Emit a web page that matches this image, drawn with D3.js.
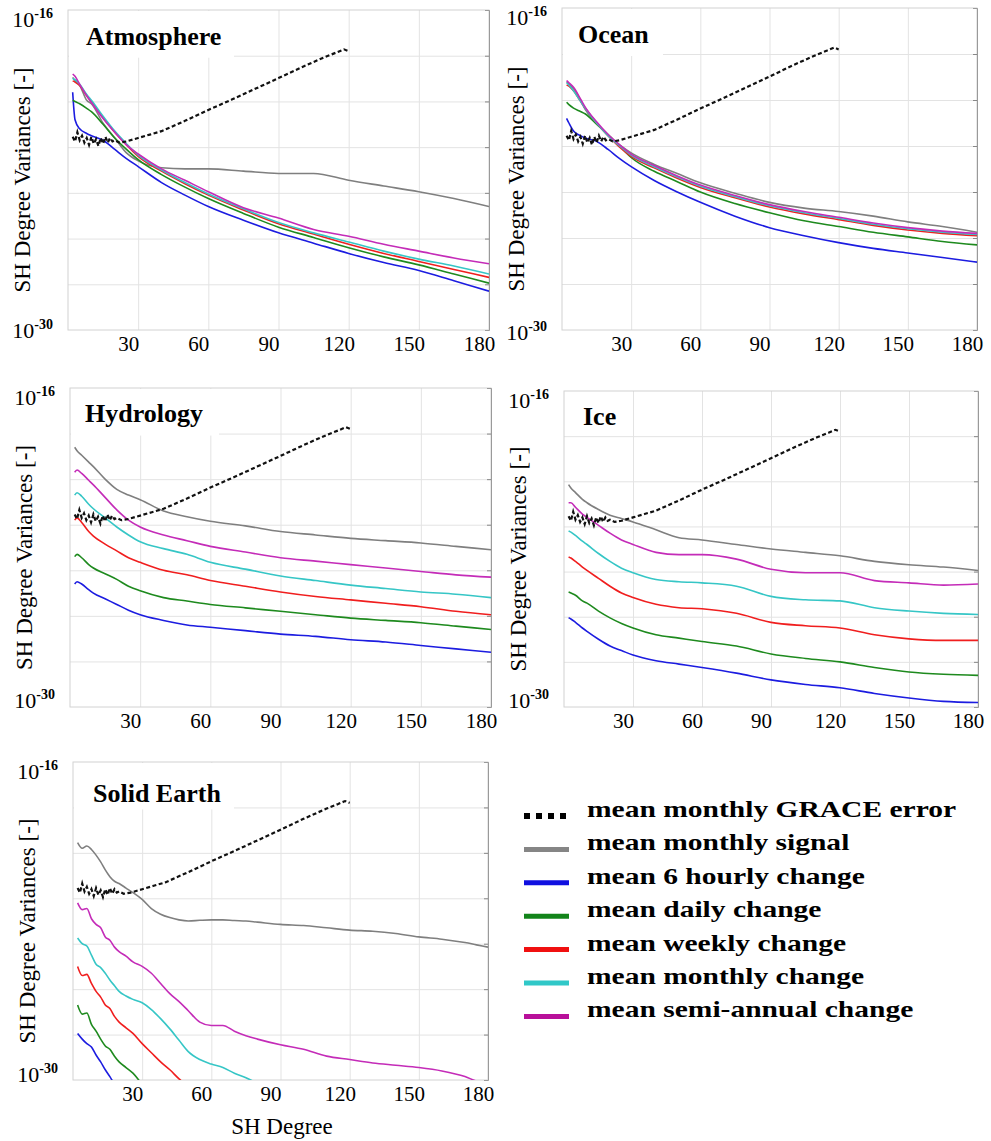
<!DOCTYPE html>
<html>
<head>
<meta charset="utf-8">
<script src="https://cdn.jsdelivr.net/npm/d3@7"></script>
<style>
  body { margin: 0; background: #fff; }
  svg { display: block; font-family: "Liberation Serif", "Times New Roman", serif; }
</style>
</head>
<body>
<svg id="chart" width="991" height="1141"></svg>
<script>
// SH degrees where the curves are sampled
const degrees = [2, 3, 5, 8, 10, 15, 20, 25, 30, 40, 50, 60, 75, 90, 105, 120, 135, 150, 165, 180];

// mean monthly GRACE error (same in every panel), log10 of the degree variance
const graceDegrees = [2, 3, 4, 5, 6, 7, 8, 9, 10, 11, 12, 13, 14, 15, 16, 17, 18, 19, 20, 22, 25, 30, 35, 40, 50, 60, 70, 80, 90, 100, 110, 115, 118, 120];
const graceError = [-21.55, -21.75, -21.35, -21.7, -21.5, -21.8, -21.6, -21.9, -21.55, -21.85, -21.65, -21.95, -21.6, -21.85, -21.55, -21.8, -21.6, -21.75, -21.7, -21.8, -21.75, -21.6, -21.45, -21.3, -20.85, -20.37, -19.92, -19.45, -18.98, -18.5, -18.05, -17.85, -17.72, -17.8];

// Atmosphere
const atmSignal     = [-18.95, -19.1, -19.3, -19.95, -20.1, -20.95, -21.6, -22.25, -22.6, -22.9, -22.95, -22.95, -23.05, -23.15, -23.15, -23.45, -23.7, -23.95, -24.25, -24.6];
const atmHourly     = [-19.6, -20.8, -21.2, -21.4, -21.5, -21.7, -22.1, -22.5, -22.85, -23.55, -24.1, -24.6, -25.2, -25.75, -26.2, -26.65, -27.05, -27.4, -27.85, -28.3];
const atmDaily      = [-19.95, -20.0, -20.1, -20.3, -20.45, -21.0, -21.6, -22.1, -22.55, -23.2, -23.75, -24.25, -24.9, -25.5, -25.95, -26.4, -26.8, -27.15, -27.55, -27.95];
const atmWeekly     = [-19.1, -19.15, -19.3, -19.75, -20.0, -20.7, -21.35, -21.9, -22.4, -23.05, -23.6, -24.1, -24.75, -25.35, -25.8, -26.25, -26.65, -27.0, -27.35, -27.7];
const atmMonthly    = [-19.0, -19.05, -19.25, -19.7, -19.95, -20.65, -21.3, -21.85, -22.35, -23.0, -23.55, -24.05, -24.7, -25.3, -25.75, -26.15, -26.55, -26.9, -27.2, -27.55];
const atmSemiAnnual = [-18.8, -18.9, -19.25, -19.75, -20.05, -20.75, -21.35, -21.9, -22.3, -22.95, -23.45, -23.95, -24.65, -25.1, -25.6, -25.9, -26.25, -26.55, -26.85, -27.1];

// Ocean
const ocnSignal     = [-19.2, -19.3, -19.5, -20.0, -20.4, -21.0, -21.55, -21.95, -22.3, -22.8, -23.2, -23.6, -24.05, -24.45, -24.7, -24.85, -25.05, -25.3, -25.5, -25.75];
const ocnHourly     = [-20.8, -21.0, -21.35, -21.55, -21.65, -21.8, -22.15, -22.55, -22.9, -23.5, -24.0, -24.45, -25.05, -25.55, -25.9, -26.2, -26.45, -26.65, -26.85, -27.05];
const ocnDaily      = [-20.1, -20.2, -20.35, -20.5, -20.6, -21.05, -21.5, -22.0, -22.5, -23.1, -23.55, -24.0, -24.5, -24.9, -25.25, -25.5, -25.75, -25.95, -26.15, -26.3];
const ocnWeekly     = [-19.35, -19.4, -19.6, -20.05, -20.35, -21.0, -21.55, -22.05, -22.45, -22.95, -23.4, -23.8, -24.25, -24.65, -24.95, -25.2, -25.45, -25.65, -25.8, -25.9];
const ocnMonthly    = [-19.25, -19.35, -19.6, -20.05, -20.35, -21.0, -21.55, -22.0, -22.4, -22.9, -23.35, -23.75, -24.2, -24.6, -24.9, -25.15, -25.4, -25.6, -25.75, -25.85];
const ocnSemiAnnual = [-19.15, -19.25, -19.45, -19.95, -20.3, -20.95, -21.5, -21.95, -22.35, -22.85, -23.3, -23.7, -24.15, -24.55, -24.85, -25.1, -25.35, -25.55, -25.7, -25.8];

// Hydrology
const hydSignal     = [-18.6, -18.75, -18.95, -19.25, -19.45, -20.0, -20.45, -20.7, -20.9, -21.4, -21.65, -21.85, -22.05, -22.3, -22.45, -22.6, -22.7, -22.8, -22.95, -23.1];
const hydHourly     = [-24.6, -24.5, -24.6, -24.85, -25.0, -25.25, -25.5, -25.75, -25.95, -26.2, -26.4, -26.5, -26.65, -26.8, -26.9, -27.05, -27.15, -27.3, -27.45, -27.6];
const hydDaily      = [-23.4, -23.3, -23.45, -23.75, -23.9, -24.15, -24.4, -24.7, -24.9, -25.2, -25.35, -25.5, -25.65, -25.8, -25.95, -26.1, -26.2, -26.3, -26.45, -26.6];
const hydWeekly     = [-21.8, -21.7, -21.9, -22.3, -22.5, -22.85, -23.15, -23.45, -23.65, -24.0, -24.2, -24.45, -24.7, -24.95, -25.15, -25.3, -25.45, -25.6, -25.8, -25.95];
const hydMonthly    = [-20.7, -20.6, -20.75, -21.1, -21.3, -21.7, -22.1, -22.45, -22.75, -23.05, -23.3, -23.65, -23.95, -24.25, -24.45, -24.65, -24.8, -24.95, -25.05, -25.2];
const hydSemiAnnual = [-19.7, -19.6, -19.75, -20.05, -20.25, -20.8, -21.35, -21.8, -22.1, -22.45, -22.7, -22.95, -23.2, -23.45, -23.6, -23.75, -23.9, -24.05, -24.2, -24.3];

// Ice
const iceSignal     = [-20.15, -20.3, -20.5, -20.8, -20.95, -21.25, -21.5, -21.65, -21.8, -22.15, -22.5, -22.6, -22.8, -23.0, -23.15, -23.3, -23.55, -23.7, -23.8, -23.95];
const iceHourly     = [-26.05, -26.1, -26.25, -26.5, -26.65, -27.0, -27.3, -27.5, -27.7, -27.95, -28.1, -28.25, -28.5, -28.8, -29.0, -29.15, -29.4, -29.6, -29.75, -29.8];
const iceDaily      = [-24.9, -24.95, -25.05, -25.3, -25.4, -25.75, -26.05, -26.3, -26.5, -26.8, -26.95, -27.1, -27.3, -27.65, -27.85, -28.0, -28.25, -28.45, -28.55, -28.6];
const iceWeekly     = [-23.35, -23.4, -23.55, -23.8, -23.95, -24.3, -24.65, -24.95, -25.15, -25.45, -25.6, -25.65, -25.85, -26.25, -26.4, -26.5, -26.8, -26.98, -27.05, -27.05];
const iceMonthly    = [-22.2, -22.25, -22.4, -22.65, -22.8, -23.2, -23.55, -23.85, -24.05, -24.35, -24.45, -24.5, -24.65, -25.1, -25.25, -25.3, -25.6, -25.75, -25.85, -25.9];
const iceSemiAnnual = [-20.95, -20.95, -21.15, -21.45, -21.6, -21.95, -22.3, -22.6, -22.8, -23.15, -23.25, -23.25, -23.45, -23.9, -24.05, -24.05, -24.4, -24.5, -24.6, -24.55];

// Solid Earth (own sampling, null where the curve has left the plot)
const seDegrees = [2, 4, 6, 8, 10, 12, 14, 16, 18, 20, 23, 26, 30, 34, 38, 42, 46, 50, 55, 60, 65, 70, 75, 80, 90, 100, 110, 120, 130, 140, 150, 160, 170, 175, 180];
const seSignal     = [-19.55, -19.8, -19.7, -19.85, -20.1, -20.4, -20.75, -21.05, -21.25, -21.35, -21.55, -21.75, -22.05, -22.45, -22.7, -22.85, -22.95, -23.0, -22.97, -22.95, -22.95, -22.98, -23.0, -23.05, -23.15, -23.2, -23.3, -23.4, -23.45, -23.55, -23.7, -23.8, -23.95, -24.05, -24.15];
const seHourly     = [-27.95, -28.2, -28.4, -28.55, -28.9, -29.2, -29.55, -29.85, -30.2, null, null, null, null, null, null, null, null, null, null, null, null, null, null, null, null, null, null, null, null, null, null, null, null, null, null];
const seDaily      = [-26.7, -27.1, -27.05, -27.55, -27.85, -28.2, -28.5, -28.65, -28.95, -29.2, -29.45, -29.7, -30.2, null, null, null, null, null, null, null, null, null, null, null, null, null, null, null, null, null, null, null, null, null, null];
const seWeekly     = [-25.0, -25.4, -25.35, -25.75, -26.1, -26.35, -26.7, -26.85, -27.2, -27.45, -27.7, -27.95, -28.4, -28.8, -29.2, -29.55, -29.95, -30.3, null, null, null, null, null, null, null, null, null, null, null, null, null, null, null, null, null];
const seMonthly    = [-23.75, -24.0, -24.1, -24.5, -24.9, -25.05, -25.3, -25.6, -25.85, -26.1, -26.3, -26.45, -26.6, -26.9, -27.3, -27.75, -28.25, -28.75, -29.1, -29.3, -29.45, -29.7, -29.9, -30.15, null, null, null, null, null, null, null, null, null, null, null];
const seSemiAnnual = [-22.2, -22.5, -22.45, -22.9, -23.15, -23.3, -23.7, -23.85, -24.15, -24.35, -24.55, -24.8, -25.0, -25.3, -25.75, -26.2, -26.55, -26.95, -27.45, -27.6, -27.6, -27.85, -28.05, -28.2, -28.45, -28.65, -28.95, -29.1, -29.25, -29.35, -29.45, -29.6, -29.85, -30.05, -30.2];

// axes and legend
const xTicks = [30, 60, 90, 120, 150, 180];
const yGrid = [1e-18, 1e-20, 1e-22, 1e-24, 1e-26, 1e-28];
const yEnds = [-16, -30];
const legendLabels = ["mean monthly GRACE error", "mean monthly signal", "mean 6 hourly change", "mean daily change", "mean weekly change", "mean monthly change", "mean semi-annual change"];
const seriesColors = ["#7f7f7f", "#1c1ce0", "#1e8a1e", "#f01e1e", "#36c6c6", "#c42cb8"];
const legendColors = ["#000", "#858585", "#1010e0", "#12841a", "#f01010", "#30c8c8", "#b8109a"];

const panels = [
  { title: "Atmosphere", x: 68, y: 10, w: 421, h: 320, deg: degrees, boxW: 165, tx: 18, ty: 35, lowOff: 8,
    series: [atmSignal, atmHourly, atmDaily, atmWeekly, atmMonthly, atmSemiAnnual] },
  { title: "Ocean", x: 562, y: 8, w: 415, h: 322, deg: degrees, boxW: 100, tx: 16, ty: 35, lowOff: 10,
    series: [ocnSignal, ocnHourly, ocnDaily, ocnWeekly, ocnMonthly, ocnSemiAnnual] },
  { title: "Hydrology", x: 70, y: 388, w: 421, h: 319, deg: degrees, boxW: 148, tx: 15, ty: 34, lowOff: 1,
    series: [hydSignal, hydHourly, hydDaily, hydWeekly, hydMonthly, hydSemiAnnual] },
  { title: "Ice", x: 564, y: 391, w: 414, h: 316, deg: degrees, boxW: 0, tx: 19, ty: 34, lowOff: 1,
    series: [iceSignal, iceHourly, iceDaily, iceWeekly, iceMonthly, iceSemiAnnual] },
  { title: "Solid Earth", x: 73, y: 762, w: 415, h: 318, deg: seDegrees, boxW: 160, tx: 20, ty: 40, lowOff: 2,
    series: [seSignal, seHourly, seDaily, seWeekly, seMonthly, seSemiAnnual] }
];

const svg = d3.select("#chart");

panels.forEach((p, pi) => {
  const g = svg.append("g").attr("transform", `translate(${p.x},${p.y})`);
  const x = d3.scaleLinear().domain([0, 180]).range([0, p.w]);
  const y = d3.scaleLog().domain([1e-30, 1e-16]).range([p.h, 0]);

  // grid
  g.append("g")
    .attr("transform", `translate(0,${p.h})`)
    .call(d3.axisBottom(x).tickValues(xTicks).tickSize(-p.h).tickFormat(""))
    .call(a => a.select(".domain").remove())
    .selectAll("line").attr("stroke", "#e3e3e3");
  g.append("g")
    .call(d3.axisLeft(y).tickValues(yGrid).tickSize(-p.w).tickFormat(""))
    .call(a => a.select(".domain").remove())
    .selectAll("line").attr("stroke", "#e3e3e3");

  // white patch behind the title
  if (p.boxW > 0) {
    g.append("rect").attr("x", 1).attr("y", 1).attr("width", p.boxW).attr("height", y(1e-18) + 1).attr("fill", "#fff");
  }

  // frame
  g.append("rect").attr("width", p.w).attr("height", p.h)
    .attr("fill", "none").attr("stroke", "#d2d2d2");
  g.append("g")
    .attr("transform", `translate(${p.w},0)`)
    .call(d3.axisLeft(y).tickValues(yGrid).tickSize(4).tickFormat(""))
    .call(a => a.select(".domain").attr("stroke", "#9a9a9a"))
    .selectAll("line").attr("stroke", "#888");

  // curves
  const clipId = "clip" + pi;
  g.append("clipPath").attr("id", clipId)
    .append("rect").attr("width", p.w).attr("height", p.h);
  const plot = g.append("g").attr("clip-path", `url(#${clipId})`);

  const line = d3.line()
    .defined(d => d.v !== null)
    .x(d => x(d.d))
    .y(d => y(Math.pow(10, d.v)))
    .curve(d3.curveMonotoneX);

  p.series.forEach((vals, si) => {
    const pts = p.deg.map((d, i) => ({ d: d, v: vals[i] }));
    plot.append("path")
      .datum(pts)
      .attr("d", line)
      .attr("fill", "none")
      .attr("stroke", seriesColors[si])
      .attr("stroke-width", 1.6);
  });

  const grace = graceDegrees.map((d, i) => ({ d: d, v: graceError[i] }));
  plot.append("path")
    .datum(grace)
    .attr("d", line.curve(d3.curveLinear))
    .attr("fill", "none")
    .attr("stroke", "#111")
    .attr("stroke-width", 2.2)
    .attr("stroke-dasharray", "4,2.5");

  // x tick labels
  g.append("g")
    .attr("transform", `translate(0,${p.h})`)
    .call(d3.axisBottom(x).tickValues(xTicks).tickSize(0).tickPadding(6).tickFormat(d3.format("d")))
    .call(a => a.select(".domain").remove())
    .selectAll("text")
    .attr("dx", -10)
    .attr("font-family", "Liberation Serif, serif")
    .attr("font-size", 21)
    .attr("fill", "#000");

  // y end labels 10^-16 and 10^-30
  yEnds.forEach((e, k) => {
    const t = g.append("text")
      .attr("x", -15)
      .attr("y", k === 0 ? y(Math.pow(10, e)) + 17 : y(Math.pow(10, e)) + p.lowOff)
      .attr("text-anchor", "end")
      .attr("font-size", 22);
    t.append("tspan").text("10");
    t.append("tspan").attr("dy", -9).attr("font-size", 14).attr("font-weight", "bold").text(e);
  });

  // y axis title
  g.append("text")
    .attr("transform", `translate(-38,${p.h / 2 + 10}) rotate(-90)`)
    .attr("text-anchor", "middle")
    .attr("font-size", 23)
    .text("SH Degree Variances [-]");

  // panel title
  g.append("text")
    .attr("x", p.tx).attr("y", p.ty)
    .attr("font-size", 26)
    .attr("font-weight", "bold")
    .text(p.title);
});

// x axis title under the last panel
svg.append("text")
  .attr("x", 282).attr("y", 1134)
  .attr("text-anchor", "middle")
  .attr("font-size", 23)
  .text("SH Degree");

// legend
const legend = svg.append("g");
legendLabels.forEach((lab, i) => {
  const by = 817 + i * 33.4;
  legend.append("line")
    .attr("x1", 524).attr("x2", 569)
    .attr("y1", by - 1).attr("y2", by - 1)
    .attr("stroke", legendColors[i])
    .attr("stroke-width", i === 0 ? 6 : 5)
    .attr("stroke-dasharray", i === 0 ? "6,6" : null);
  legend.append("text")
    .attr("transform", `translate(587,${by}) scale(1.23,1)`)
    .attr("font-size", 24)
    .attr("font-weight", "bold")
    .text(lab);
});
</script>
</body>
</html>
